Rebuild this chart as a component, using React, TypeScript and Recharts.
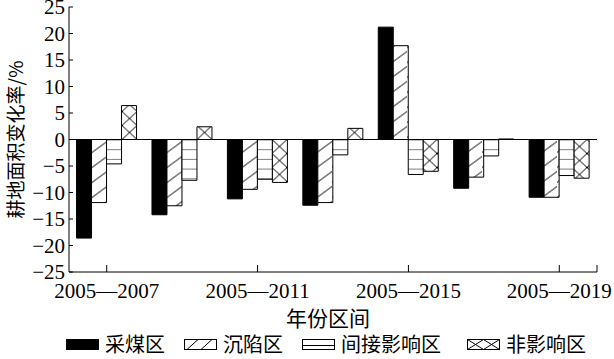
import React from 'react';
import {
  BarChart,
  Bar,
  XAxis,
  YAxis,
  ReferenceLine,
  Label,
} from 'recharts';

// Categories (year ranges) and series values
const categories = ['2005—2007', '2005—2009', '2005—2011', '2005—2013', '2005—2015', '2005—2017', '2005—2019'];
const miningArea = [-18.6, -14.2, -11.2, -12.4, 21.2, -9.2, -10.9];
const subsidenceArea = [-11.9, -12.5, -9.4, -11.9, 17.7, -7.1, -10.9];
const indirectArea = [-4.6, -7.7, -7.5, -2.9, -6.6, -3.1, -6.8];
const nonAffectedArea = [6.4, 2.4, -8.1, 2.1, -6.0, 0.1, -7.3];
const yTicks = [-25, -20, -15, -10, -5, 0, 5, 10, 15, 20, 25];

const seriesNames = ['采煤区', '沉陷区', '间接影响区', '非影响区'];

const data = categories.map((c, i) => ({
  name: c,
  mining: miningArea[i],
  subsidence: subsidenceArea[i],
  indirect: indirectArea[i],
  nonAffected: nonAffectedArea[i],
}));

const W = 614;
const H = 359;
const MARGIN = { top: 7, right: 17, left: 0, bottom: 0 };
const Y_AXIS_W = 69;
const PLOT_W = W - MARGIN.left - MARGIN.right - Y_AXIS_W;

const LATIN = "'Liberation Serif', 'Noto Sans CJK SC', serif";
const CJK = "'Noto Sans CJK SC', 'Liberation Serif', sans-serif";

const fmt = (v: number) => (v < 0 ? '\u2212' + Math.abs(v) : String(v));

const XTick = (props: any) => {
  const { x, y, payload } = props;
  const half = PLOT_W / categories.length / 2;
  const isLast = payload.value === categories[categories.length - 1];
  return (
    <g>
      <line x1={x} y1={y} x2={x} y2={y - 7} stroke="#000" strokeWidth={1} />
      {isLast && <line x1={x + half} y1={y} x2={x + half} y2={y - 7} stroke="#000" strokeWidth={1} />}
      <text x={x} y={y + 26} textAnchor="middle" fontSize={21} fontFamily={LATIN} fill="#000">
        {payload.value}
      </text>
    </g>
  );
};

const YTick = (props: any) => {
  const { x, y, payload } = props;
  return (
    <g>
      <line x1={x} y1={y} x2={x + 4} y2={y} stroke="#000" strokeWidth={1} />
      <text x={x - 4} y={y} dy="0.35em" textAnchor="end" fontSize={21} fontFamily={LATIN} fill="#000">
        {fmt(payload.value)}
      </text>
    </g>
  );
};

// small swatches for the legend, same hatching as the bars
const Swatch = ({ kind }: { kind: number }) => {
  const w = 33;
  const h = 11;
  return (
    <svg width={w} height={h} style={{ display: 'block' }}>
      <rect x={0.5} y={0.5} width={w - 1} height={h - 1} fill={kind === 0 ? '#000' : '#fff'} stroke="#000" />
      {kind === 1 && (
        <g stroke="#000">
          <line x1={3} y1={h - 0.5} x2={14} y2={0.5} />
          <line x1={17} y1={h - 0.5} x2={28} y2={0.5} />
        </g>
      )}
      {kind === 2 && <line x1={0.5} y1={h / 2 + 1} x2={w - 0.5} y2={h / 2 + 1} stroke="#000" />}
      {kind === 3 && (
        <g stroke="#000">
          <line x1={0.5} y1={0.5} x2={16.5} y2={h - 0.5} />
          <line x1={0.5} y1={h - 0.5} x2={16.5} y2={0.5} />
          <line x1={16.5} y1={0.5} x2={w - 0.5} y2={h - 0.5} />
          <line x1={16.5} y1={h - 0.5} x2={w - 0.5} y2={0.5} />
        </g>
      )}
    </svg>
  );
};

export default function App() {
  return (
    <div style={{ position: 'absolute', left: 0, top: 0, width: W, height: H, background: '#fff' }}>
      <BarChart
        width={W}
        height={H}
        data={data}
        margin={MARGIN}
        barCategoryGap="10%"
        barGap={0}
        style={{ overflow: 'visible' }}
      >
        <defs>
          <pattern id="hatch" patternUnits="userSpaceOnUse" x={2} y={139.5} width={15} height={15}>
            <rect width={15} height={15} fill="#fff" />
            <line x1={0} y1={13} x2={15} y2={2} stroke="#000" strokeWidth={1} />
          </pattern>
          <pattern id="hlines" patternUnits="userSpaceOnUse" x={0} y={139.5} width={15} height={9.7}>
            <rect width={15} height={9.7} fill="#fff" />
            <line x1={0} y1={0} x2={15} y2={0} stroke="#000" strokeWidth={1} />
          </pattern>
          <pattern id="cross" patternUnits="userSpaceOnUse" x={2} y={139.5} width={15} height={14}>
            <rect width={15} height={14} fill="#fff" />
            <line x1={0} y1={0} x2={15} y2={14} stroke="#000" strokeWidth={1} />
            <line x1={0} y1={14} x2={15} y2={0} stroke="#000" strokeWidth={1} />
          </pattern>
        </defs>
        <XAxis
          dataKey="name"
          height={H - MARGIN.top - 265}
          interval={1}
          tick={<XTick />}
          tickLine={false}
          tickSize={0}
          tickMargin={0}
          axisLine={{ stroke: '#000', strokeWidth: 1 }}
        >
          <Label
            content={(p: any) => {
              const vb = p.viewBox;
              return (
                <text x={vb.x + vb.width / 2 - 5} y={vb.y + 54} textAnchor="middle" fontSize={21} fontFamily={CJK} fill="#000">
                  年份区间
                </text>
              );
            }}
          />
        </XAxis>
        <YAxis
          width={Y_AXIS_W}
          domain={[-25, 25]}
          ticks={yTicks}
          interval={0}
          tick={<YTick />}
          tickLine={false}
          tickSize={0}
          tickMargin={0}
          axisLine={{ stroke: '#000', strokeWidth: 1 }}
        >
          <Label
            content={(p: any) => {
              const vb = p.viewBox;
              const cx = vb.x + 13;
              const cy = vb.y + vb.height / 2;
              return (
                <text
                  x={cx}
                  y={cy}
                  dy="0.5em"
                  textAnchor="middle"
                  fontSize={19}
                  fontFamily={CJK}
                  fill="#000"
                  transform={`rotate(-90 ${cx} ${cy})`}
                >
                  耕地面积变化率/%
                </text>
              );
            }}
          />
        </YAxis>
        <Bar dataKey="mining" name={seriesNames[0]} fill="#000" stroke="#000" strokeWidth={1} isAnimationActive={false} />
        <Bar dataKey="subsidence" name={seriesNames[1]} fill="url(#hatch)" stroke="#000" strokeWidth={1} isAnimationActive={false} />
        <Bar dataKey="indirect" name={seriesNames[2]} fill="url(#hlines)" stroke="#000" strokeWidth={1} isAnimationActive={false} />
        <Bar dataKey="nonAffected" name={seriesNames[3]} fill="url(#cross)" stroke="#000" strokeWidth={1} isAnimationActive={false} />
        <ReferenceLine y={0} stroke="#000" strokeWidth={1} />
      </BarChart>

      {/* legend row under the axis title */}
      <div
        style={{
          position: 'absolute',
          left: 66,
          top: 334,
          height: 20,
          display: 'flex',
          alignItems: 'center',
          fontFamily: CJK,
          fontSize: 20,
          lineHeight: '20px',
          color: '#000',
          whiteSpace: 'nowrap',
        }}
      >
        {seriesNames.map((n, i) => (
          <div key={n} style={{ display: 'flex', alignItems: 'center', marginRight: i === 2 ? 26 : 19 }}>
            <Swatch kind={i} />
            <span style={{ marginLeft: 6 }}>{n}</span>
          </div>
        ))}
      </div>
    </div>
  );
}
